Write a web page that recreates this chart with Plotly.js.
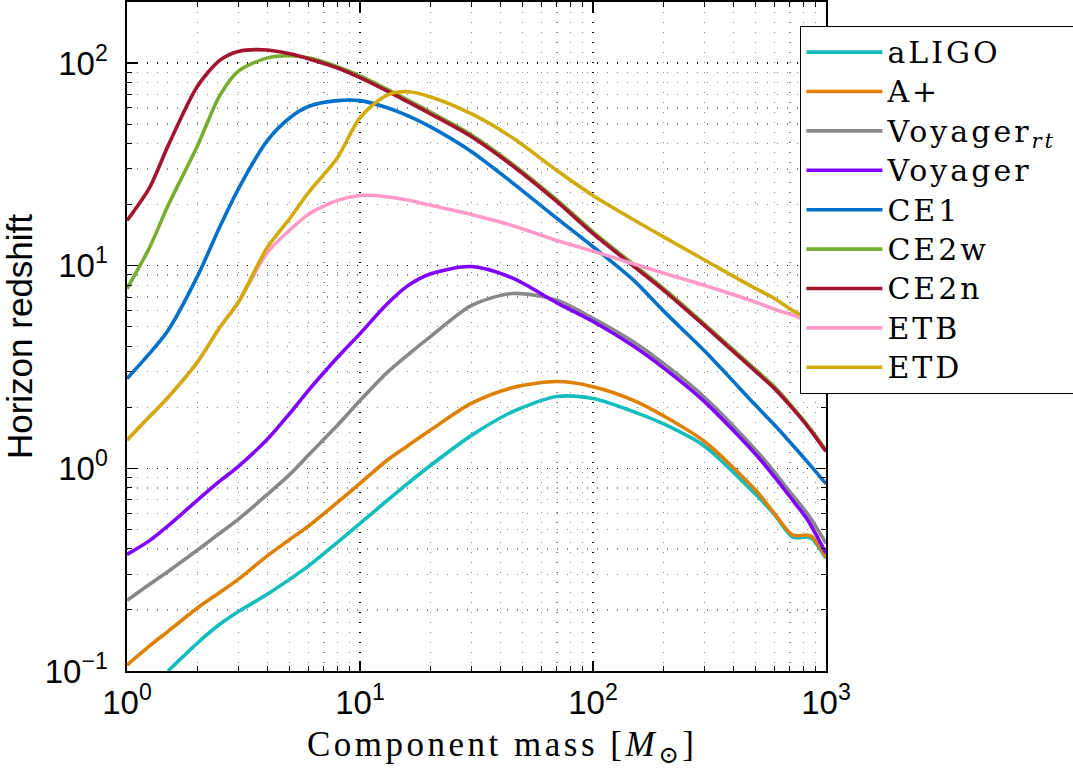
<!DOCTYPE html>
<html>
<head>
<meta charset="utf-8">
<script src="https://cdn.plot.ly/plotly-3.0.1.min.js"></script>
<style>
  html, body { margin: 0; padding: 0; background: #fff; }
  #chart { width: 1073px; height: 769px; }
  .legendtext { font-size: 30px !important; letter-spacing: 3px; }
  .legend rect.bg { width: 330px; }
  .annotation-text { letter-spacing: 3.5px; }
</style>
</head>
<body>
<div id="chart"></div>
<script>
// Component mass grid [solar masses]
const mass = [1, 1.25, 1.5, 2, 2.5, 3, 4, 5, 6, 8, 10, 13, 16, 20, 30, 45, 70, 100, 150, 200, 300, 500, 600, 720, 830, 870, 1000];

// Horizon redshift per detector; null = no reading at that mass
const aLIGO      = [null, null, 0.1, 0.137, 0.17, 0.196, 0.239, 0.284, 0.329, 0.431, 0.535, 0.69, 0.841, 1.03, 1.45, 1.9, 2.26, 2.21, 1.9, 1.66, 1.29, 0.743, 0.593, 0.458, 0.458, 0.451, 0.36];
const Aplus      = [0.107, 0.133, 0.157, 0.204, 0.244, 0.283, 0.37, 0.446, 0.518, 0.679, 0.843, 1.09, 1.29, 1.54, 2.09, 2.5, 2.68, 2.53, 2.16, 1.82, 1.36, 0.778, 0.6, 0.468, 0.468, 0.46, 0.364];
const VoyagerRT  = [0.223, 0.268, 0.31, 0.394, 0.478, 0.56, 0.743, 0.934, 1.16, 1.63, 2.16, 2.95, 3.62, 4.45, 6.35, 7.29, 6.75, 5.5, 4.19, 3.3, 2.25, 1.23, 0.96, 0.735, 0.6, null, 0.427];
const Voyager    = [0.376, 0.44, 0.52, 0.695, 0.864, 1.02, 1.39, 1.87, 2.42, 3.52, 4.62, 6.43, 7.95, 9.1, 9.9, 8.7, 6.55, 5.3, 3.99, 3.14, 2.14, 1.17, 0.91, 0.695, 0.561, null, 0.381];
const CE1        = [2.77, 3.69, 4.79, 8.8, 15.5, 23.8, 41.4, 53.7, 61, 65.2, 65.2, 60.3, 55, 48.5, 36.6, 25.7, 17.1, 12.4, 8.44, 6.0, 3.81, 2.04, 1.64, 1.3, 1.08, null, 0.84];
const CE2w       = [7.7, 12.3, 19.8, 38.7, 69, 91, 106, 108.6, 106, 96, 86.5, 74.5, 65.8, 57.4, 44.3, 31.8, 21.1, 14.7, 10.1, 7.75, 5.17, 3.06, 2.53, 2.0, 1.645, null, 1.23];
const CE2n       = [16.7, 24.3, 39, 76.4, 103, 114, 116, 111, 105, 94.5, 84.7, 73, 64.4, 56.2, 43.4, 31.2, 20.7, 14.4, 9.9, 7.6, 5.07, 3.0, 2.48, 1.97, 1.62, null, 1.21];
const ETB        = [1.38, 1.8, 2.24, 3.33, 4.95, 6.58, 11.6, 15.0, 17.9, 21.0, 22.2, 21.9, 21.1, 19.9, 17.9, 15.8, 13.3, 11.8, 10.2, 9.2, 8.0, 6.6, 6.1, 5.7, 5.35, null, 4.9];
const ETD        = [1.38, 1.8, 2.24, 3.33, 4.95, 6.58, 12.3, 17.1, 22.9, 34.1, 53.7, 69.3, 72.2, 68.2, 56.2, 42.9, 29.5, 22.2, 16.8, 13.9, 10.7, 7.7, 6.9, 6.0, 5.5, null, 4.85];

const seriesNames  = ['aLIGO', 'A+', 'Voyager<sub><i>rt</i></sub>', 'Voyager', 'CE1', 'CE2w', 'CE2n', 'ETB', 'ETD'];
const seriesValues = [aLIGO, Aplus, VoyagerRT, Voyager, CE1, CE2w, CE2n, ETB, ETD];
const seriesColors = ['#12BDBD', '#DE8000', '#888888', '#8000FF', '#0070C8', '#77AC30', '#A2142F', '#FF99C8', '#D2AA0A'];

// Axis ticks
const xTickVals = [1, 10, 100, 1000];
const xTickText = ['10<sup>0</sup>', '10<sup>1</sup>', '10<sup>2</sup>', '10<sup>3</sup>'];
const yTickVals = [0.1, 1, 10, 100];
const yTickText = ['10<sup>−1</sup>', '10<sup>0</sup>', '10<sup>1</sup>', '10<sup>2</sup>'];
const xMinor = [2,3,4,5,6,7,8,9,20,30,40,50,60,70,80,90,200,300,400,500,600,700,800,900];
const yMinor = [0.2,0.3,0.4,0.5,0.6,0.7,0.8,0.9,2,3,4,5,6,7,8,9,20,30,40,50,60,70,80,90,200];

const xTitle = 'Component mass [<i>M</i><sub>⊙</sub>]';
const yTitle = 'Horizon redshift';

const traces = seriesNames.map((name, i) => ({
  x: mass,
  y: seriesValues[i],
  name: name,
  type: 'scatter',
  mode: 'lines',
  line: { color: seriesColors[i], width: 3.6, shape: 'spline', smoothing: 0.8 },
  connectgaps: true,
  hoverinfo: 'skip'
}));

const dotDash = '1.2px,8.8px';

function axisCommon(tickVals, tickText, minorVals) {
  return {
    type: 'log',
    tickmode: 'array',
    tickvals: tickVals,
    ticktext: tickText,
    ticks: 'inside',
    ticklen: 10,
    tickwidth: 1.2,
    tickcolor: '#000',
    showline: true,
    linecolor: '#000',
    linewidth: 1.6,
    mirror: 'ticks',
    showgrid: true,
    gridcolor: '#000',
    gridwidth: 1.2,
    griddash: dotDash,
    zeroline: false,
    tickfont: { family: 'Liberation Sans, Arial, sans-serif', size: 33, color: '#000' },
    minor: {
      tickmode: 'array',
      tickvals: minorVals,
      ticks: 'inside',
      ticklen: 5,
      tickwidth: 1,
      tickcolor: '#000',
      showgrid: true,
      gridcolor: '#8a8a8a',
      gridwidth: 1.2,
      griddash: dotDash
    }
  };
}

const xaxis = Object.assign(axisCommon(xTickVals, xTickText, xMinor), {
  range: [0, 3],
  ticklabelstandoff: 2
});
const yaxis = Object.assign(axisCommon(yTickVals, yTickText, yMinor), {
  range: [-1, Math.log10(200)],
  ticklabelstandoff: 11,
  title: {
    text: yTitle,
    font: { family: 'Liberation Sans, Arial, sans-serif', size: 35, color: '#000' },
    standoff: 2
  }
});

const layout = {
  width: 1073,
  height: 769,
  margin: { l: 127, r: 247, t: 2, b: 98, autoexpand: false },
  paper_bgcolor: '#fff',
  plot_bgcolor: '#fff',
  showlegend: true,
  legend: {
    x: (800 - 127) / 699,
    y: 1 - (26 - 2) / 669,
    xanchor: 'left',
    yanchor: 'top',
    bgcolor: '#fff',
    bordercolor: '#000',
    borderwidth: 1.4,
    itemwidth: 76,
    font: { family: 'DejaVu Serif, serif', size: 28, color: '#000' }
  },
  xaxis: xaxis,
  yaxis: yaxis,
  annotations: [{
    text: xTitle,
    xref: 'paper', yref: 'paper',
    x: (502 - 127) / 699,
    y: (671 - 746) / 669,
    xanchor: 'center', yanchor: 'middle',
    showarrow: false,
    font: { family: 'Liberation Serif, DejaVu Serif, serif', size: 35, color: '#000' }
  }]
};

Plotly.newPlot('chart', traces, layout, { staticPlot: true, displayModeBar: false });
</script>
</body>
</html>
